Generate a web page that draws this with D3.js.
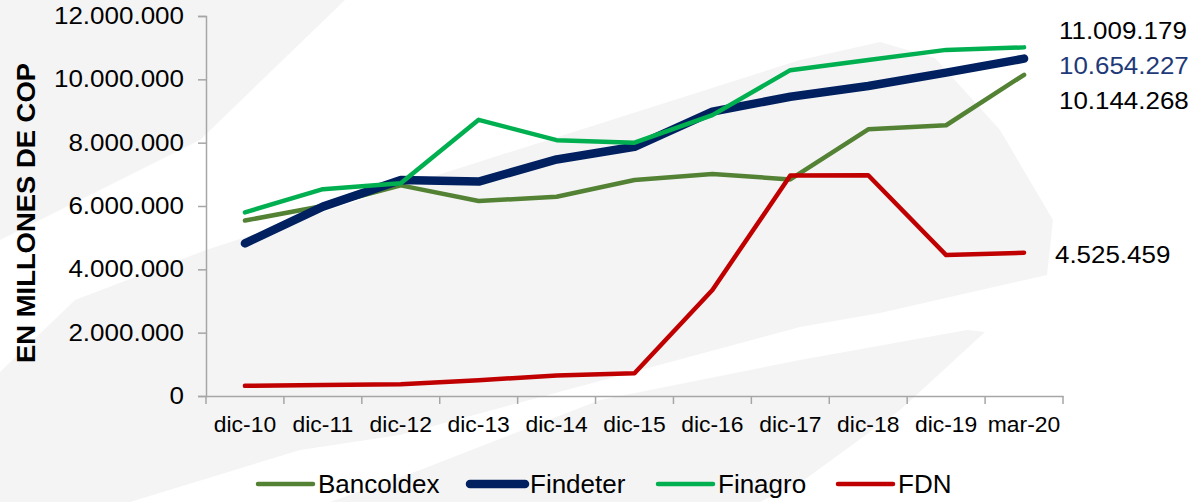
<!DOCTYPE html>
<meta charset="utf-8">
<script src="https://d3js.org/d3.v7.min.js"></script>
<style>
  body { margin: 0; background: #fff; }
  text { font-family: "Liberation Sans", Arial, sans-serif; fill: #000; }
</style>
<div id="chart"></div>
<script>
// data
var categories = ["dic-10", "dic-11", "dic-12", "dic-13", "dic-14", "dic-15", "dic-16", "dic-17", "dic-18", "dic-19", "mar-20"];
var bancoldex = [5540000, 6000000, 6650000, 6160000, 6290000, 6820000, 7010000, 6840000, 8420000, 8550000, 10144268];
var findeter  = [4820000, 5980000, 6820000, 6770000, 7470000, 7870000, 8980000, 9450000, 9790000, 10210000, 10654227];
var finagro   = [5800000, 6530000, 6720000, 8720000, 8080000, 8000000, 8870000, 10290000, 10610000, 10930000, 11009179];
var fdn       = [320000, 350000, 370000, 500000, 650000, 720000, 3350000, 6960000, 6970000, 4450000, 4525459];
var seriesNames = ["Bancoldex", "Findeter", "Finagro", "FDN"];
var yTicks = [0, 2000000, 4000000, 6000000, 8000000, 10000000, 12000000];

var W = 1194, H = 502;
var margin = {top: 16, left: 206, right: 131, bottom: 106};
var width = W - margin.left - margin.right,
    height = H - margin.top - margin.bottom;

var svg = d3.select("#chart").append("svg")
  .attr("width", W).attr("height", H);

// faint watermark in the background
var bg = svg.append("g").attr("fill", "#f4f4f4");
bg.append("path").attr("d", "M0,0 L345,0 L200,140 L0,240 Z");
bg.append("path").attr("d", "M0,372 L75,300 L206,250 L400,187 L800,60 L880,42 L935,58 L1000,130 L1053,220 L1047,275 L880,313 L800,327 L400,435 L300,450 L130,502 L0,502 Z");
bg.append("path").attr("d", "M420,470 L600,400 L800,360 L967,330 L985,332 L900,410 L800,483 L760,502 L330,502 Z");

var es = d3.formatLocale({decimal: ",", thousands: ".", grouping: [3], currency: ["$", ""]});
var fmt = es.format(",d");

var g = svg.append("g").attr("transform", "translate(" + margin.left + "," + margin.top + ")");

var x = d3.scaleBand().domain(categories).range([0, width]);
var y = d3.scaleLinear().domain([0, 12000000]).range([height, 0]);

// y axis
var yAxis = g.append("g").call(d3.axisLeft(y).tickValues(yTicks).tickFormat(fmt).tickSize(8).tickPadding(14));
yAxis.select(".domain").attr("stroke", "#a6a6a6").attr("stroke-width", 1.5);
yAxis.selectAll(".tick line").attr("stroke", "#a6a6a6").attr("stroke-width", 1.5);
yAxis.selectAll(".tick text").attr("class", "ytl").style("font-size", "23px").attr("fill", "#000");

// x axis: labels centred, ticks on category boundaries
var xAxis = g.append("g").attr("transform", "translate(0," + height + ")")
  .call(d3.axisBottom(x).tickSize(0).tickPadding(20));
xAxis.select(".domain").attr("stroke", "#a6a6a6").attr("stroke-width", 1.5);
xAxis.selectAll(".tick text").attr("class", "xtl").style("font-size", "22px").attr("fill", "#000");
var bounds = categories.map(function(c) { return x(c); }).concat([width]);
g.append("g").selectAll("line").data(bounds).enter().append("line")
  .attr("x1", function(d) { return d; }).attr("x2", function(d) { return d; })
  .attr("y1", height).attr("y2", height + 8)
  .attr("stroke", "#a6a6a6").attr("stroke-width", 1.5);

// axis title
svg.append("text")
  .attr("class", "title")
  .attr("transform", "translate(35,213) rotate(-90)")
  .attr("text-anchor", "middle")
  .style("font-size", "26px").style("font-weight", "bold")
  .text("EN MILLONES DE COP");

// lines
var series = [
  {name: "Bancoldex", values: bancoldex, color: "#548235", w: 4.5},
  {name: "Findeter", values: findeter, color: "#002060", w: 8.5},
  {name: "Finagro", values: finagro, color: "#00b050", w: 4.5},
  {name: "FDN", values: fdn, color: "#c00000", w: 4.5}
];
var line = d3.line()
  .x(function(d, i) { return x(categories[i]) + x.bandwidth() / 2; })
  .y(function(d) { return y(d); });

g.selectAll(".series").data(series).enter().append("path")
  .attr("class", "series")
  .attr("d", function(d) { return line(d.values); })
  .attr("fill", "none")
  .attr("stroke", function(d) { return d.color; })
  .attr("stroke-width", function(d) { return d.w; })
  .attr("stroke-linecap", "round")
  .attr("stroke-linejoin", "round");

// last value labels
var endLabels = [
  {v: finagro[10], yPos: 39, color: "#000"},
  {v: findeter[10], yPos: 74, color: "#1f3a78"},
  {v: bancoldex[10], yPos: 109, color: "#000"},
  {v: fdn[10], yPos: 263, color: "#000", xPos: 1055}
];
svg.selectAll(".endl").data(endLabels).enter().append("text")
  .attr("class", "endl")
  .attr("x", function(d) { return d.xPos || 1059; })
  .attr("y", function(d) { return d.yPos; })
  .style("font-size", "24px")
  .style("fill", function(d) { return d.color; })
  .text(function(d) { return fmt(d.v); });

// legend
var legX = [258, 470, 658, 838];
var leg = svg.append("g");
series.forEach(function(s, i) {
  leg.append("line")
    .attr("x1", legX[i]).attr("x2", legX[i] + 55)
    .attr("y1", 484).attr("y2", 484)
    .attr("stroke", s.color).attr("stroke-width", s.w)
    .attr("stroke-linecap", "round");
  leg.append("text")
    .attr("x", legX[i] + 60).attr("y", 493)
    .style("font-size", "26px")
    .text(s.name);
});

// widen glyphs a little to match the reference's stretched lettering
function stretch(sel, f) {
  sel.each(function() {
    var len = this.getComputedTextLength();
    d3.select(this).attr("textLength", len * f).attr("lengthAdjust", "spacingAndGlyphs");
  });
}
stretch(svg.selectAll(".ytl"), 1.13);
stretch(svg.selectAll(".xtl"), 1.04);
stretch(svg.selectAll(".endl"), 1.08);
svg.select(".title").attr("textLength", 300).attr("lengthAdjust", "spacingAndGlyphs");
</script>
